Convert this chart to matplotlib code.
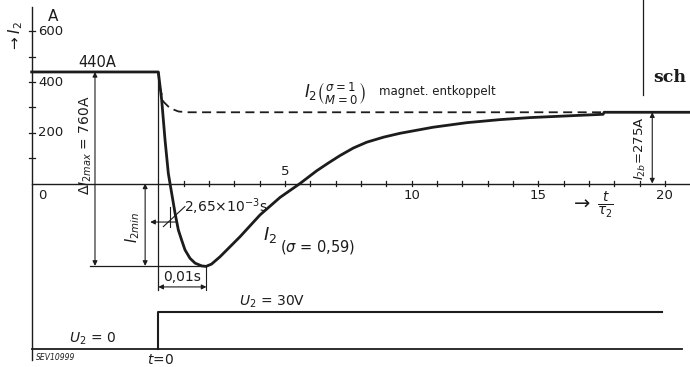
import matplotlib.pyplot as plt

# Data (t in units of tau2, current in A)
t_solid = [-5, 0, 0.134, 0.265, 0.395, 0.462, 0.659, 0.79, 0.92, 1.054, 1.25, 1.449, 1.71,
           1.883, 2.1, 2.436, 3.225, 4.015, 4.804, 5.594, 6.25, 6.70, 7.17, 7.7, 8.23, 8.9,
           9.54, 10.85, 12.18, 13.49, 14.67, 16.65, 17.56, 17.6, 21]
i_solid = [440, 440, 329, 172, 40, 0, -116, -183, -223, -262, -295, -314, -325,
           -327, -318, -289, -210, -124, -55, 0, 50, 80, 110, 140, 163, 183,
           198, 222, 240, 252, 260, 269, 273, 281, 281]

t_dashed = [0, 0.05, 0.2, 0.46, 0.8, 1.2, 17.6]
i_dashed = [440, 385, 323, 297, 284, 281, 281]

t_u2 = [0, 0, 19.9]
u2 = [0, 30, 30]

y_ticks = [100, 200, 300, 400, 500, 600]
y_labels = {600: '600', 400: '400', 200: '200'}
x_ticks = list(range(1, 21))
x_labels = {5: '5', 10: '10', 15: '15', 20: '20'}

K = '#1c1c1c'
plt.rcParams['font.family'] = ['DejaVu Sans']
plt.rcParams['mathtext.fontset'] = 'dejavusans'

fig = plt.figure(figsize=(6.9, 3.67), dpi=100)
ax = fig.add_axes([0, 0, 1, 1])
ax.set_xlim(-6.25, 20.99)
ax.set_ylim(-723.9, 723.9)
ax.axis('off')

ax2 = fig.add_axes([0, 0, 1, 1])
ax2.set_xlim(-6.25, 20.99)
ax2.set_ylim(-14.6, 283.0)
ax2.axis('off')
ax2.patch.set_alpha(0)


def dim(a, p1, p2, lw=0.8):
    a.annotate('', xy=p2, xytext=p1,
               arrowprops=dict(arrowstyle='<|-|>', color=K, lw=lw, mutation_scale=7,
                               shrinkA=0, shrinkB=0))


# axes lines
ax.plot([-5, -5], [-696, 695], color=K, lw=1.0)
ax.plot([-5, 21], [0, 0], color=K, lw=1.0)
for v in y_ticks:
    ax.plot([-5.12, -4.88], [v, v], color=K, lw=0.9)
    if v in y_labels:
        ax.text(-4.75, v, y_labels[v], fontsize=9.5, ha='left', va='center', color=K)
for v in x_ticks:
    ax.plot([v, v], [-11, 11], color=K, lw=0.9)
    if v in x_labels:
        if v == 5:
            ax.text(v, 22, x_labels[v], fontsize=9.5, ha='center', va='bottom', color=K)
        else:
            ax.text(v, -22, x_labels[v], fontsize=9.5, ha='center', va='top', color=K)
ax.text(-4.75, -22, '0', fontsize=9.5, ha='left', va='top', color=K)
ax.text(-4.35, 660, 'A', fontsize=11, ha='left', va='center', color=K)
ax.text(-5.65, 580, r'$\rightarrow I_2$', fontsize=11, rotation=90, ha='center', va='center', color=K)

# curves
ax.plot(t_solid, i_solid, color=K, lw=2.0, solid_joinstyle='round')
ax.plot(t_dashed, i_dashed, color=K, lw=1.3, linestyle=(0, (5, 3)))

# construction lines
ax.plot([0, 0], [440, -421], color=K, lw=0.9)
ax.plot([-2.7, 1.9], [-325, -325], color=K, lw=0.9)
ax.plot([1.9, 1.9], [-325, -421], color=K, lw=0.8)
dim(ax, (-2.5, 440), (-2.5, -325))
dim(ax, (-0.52, 0), (-0.52, -325))
dim(ax, (0, -408), (1.9, -408))
dim(ax, (19.5, 281), (19.5, 0))
ax.annotate('', xy=(-0.32, -152), xytext=(0.68, -152),
            arrowprops=dict(arrowstyle='-|>', color=K, lw=0.8, mutation_scale=7, shrinkA=0, shrinkB=0))
ax.plot([0.46, 0.46], [-93, -172], color=K, lw=0.8)
ax.plot([0.2, 1.05], [-170, -91], color=K, lw=0.8)
ax.plot([19.13, 19.13], [724, 349], color=K, lw=0.9)

# annotations
ax.text(-2.4, 478, '440A', fontsize=10.5, ha='center', va='center', color=K)
ax.text(-2.87, 150, r'$\Delta I_{2max}$ = 760A', fontsize=10, rotation=90,
        ha='center', va='center', color=K)
ax.text(-1.0, -172, r'$I_{2min}$', fontsize=10.5, rotation=90, ha='center', va='center', color=K)
ax.text(0.93, -370, '0,01s', fontsize=10, ha='center', va='center', color=K)
ax.text(1.02, -90, r'2,65$\times$10$^{-3}$s', fontsize=10, ha='left', va='center', color=K)
ax.text(4.13, -203, r'$I_2$', fontsize=13, ha='left', va='center', color=K)
ax.text(4.8, -250, r'($\sigma$ = 0,59)', fontsize=10.5, ha='left', va='center', color=K)
ax.text(5.75, 352, r'$I_2\left(\genfrac{}{}{0}{}{\sigma = 1}{M = 0}\right)$', fontsize=12,
        ha='left', va='center', color=K)
ax.text(8.7, 362, 'magnet. entkoppelt', fontsize=8.5, ha='left', va='center', color=K)
ax.text(17.1, -85, r'$\rightarrow\,\frac{t}{\tau_2}$', fontsize=14, ha='center', va='center', color=K)
ax.text(19.05, 140, r'$I_{2b}$=275A', fontsize=9.5, rotation=90, ha='center', va='center', color=K)
ax.text(19.55, 418, 'sch', fontsize=12.5, fontweight='bold', family='DejaVu Serif',
        ha='left', va='center', color=K)

# supply voltage panel
ax2.plot([-5, 20.67], [0, 0], color=K, lw=1.3)
ax2.plot(t_u2, u2, color=K, lw=1.5)
ax2.text(4.5, 31.5, r'$U_2$ = 30V', fontsize=10, ha='center', va='bottom', color=K)
ax2.text(-2.6, 1.5, r'$U_2$ = 0', fontsize=10, ha='center', va='bottom', color=K)
ax2.text(0.07, -3, r'$t$=0', fontsize=10, ha='center', va='top', color=K)
ax2.text(-4.85, -3, 'SEV10999', fontsize=5.5, style='italic', ha='left', va='top', color=K)

fig.savefig('out.png', dpi=100)
